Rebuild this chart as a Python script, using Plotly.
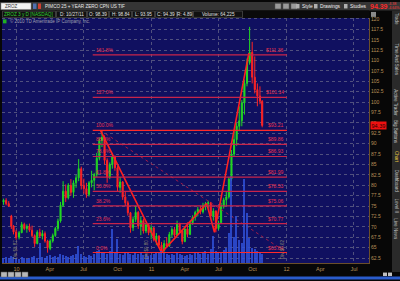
import plotly.graph_objects as go
import pandas as pd

# ---------------- data ----------------
week_dates = [
    "2009-11-27", "2009-12-04", "2009-12-11", "2009-12-18", "2009-12-24",
    "2009-12-31", "2010-01-08", "2010-01-15", "2010-01-22", "2010-01-29",
    "2010-02-05", "2010-02-12", "2010-02-19", "2010-02-26", "2010-03-05",
    "2010-03-12", "2010-03-19", "2010-03-26", "2010-04-02", "2010-04-09",
    "2010-04-16", "2010-04-23", "2010-04-30", "2010-05-07", "2010-05-14",
    "2010-05-21", "2010-05-28", "2010-06-04", "2010-06-11", "2010-06-18",
    "2010-06-25", "2010-07-02", "2010-07-09", "2010-07-16", "2010-07-23",
    "2010-07-30", "2010-08-06", "2010-08-13", "2010-08-20", "2010-08-27",
    "2010-09-03", "2010-09-10", "2010-09-17", "2010-09-24", "2010-10-01",
    "2010-10-08", "2010-10-15", "2010-10-22", "2010-10-29", "2010-11-05",
    "2010-11-12", "2010-11-19", "2010-11-26", "2010-12-03", "2010-12-10",
    "2010-12-17", "2010-12-24", "2010-12-31", "2011-01-07", "2011-01-14",
    "2011-01-21", "2011-01-28", "2011-02-04", "2011-02-11", "2011-02-18",
    "2011-02-25", "2011-03-04", "2011-03-11", "2011-03-18", "2011-03-25",
    "2011-04-01", "2011-04-08", "2011-04-15", "2011-04-22", "2011-04-29",
    "2011-05-06", "2011-05-13", "2011-05-20", "2011-05-27", "2011-06-03",
    "2011-06-10", "2011-06-17", "2011-06-24", "2011-07-01", "2011-07-08",
    "2011-07-15", "2011-07-22", "2011-07-29", "2011-08-05", "2011-08-12",
    "2011-08-19", "2011-08-26", "2011-09-02", "2011-09-09", "2011-09-16",
    "2011-09-23", "2011-09-30", "2011-10-07", "2011-10-14", "2011-10-21",
    "2011-10-27",
]
open_px = [
    76.0, 76.4, 75.6, 72.6, 70.2, 68.8, 67.5, 68.6, 70.6, 69.6,
    70.1, 69.2, 67.9, 66.0, 68.7, 67.8, 68.4, 66.6, 64.8, 66.6,
    67.9, 69.6, 71.4, 75.2, 78.6, 77.0, 80.0, 78.3, 80.6, 81.8,
    84.0, 80.0, 79.2, 77.8, 80.6, 81.2, 82.6, 86.5, 90.8, 91.5,
    86.0, 82.0, 85.0, 86.8, 84.2, 79.5, 80.8, 77.2, 75.8, 73.4,
    69.8, 71.8, 73.5, 70.2, 71.5, 69.0, 70.5, 68.6, 69.8, 67.0,
    67.8, 65.6, 64.3, 66.0, 65.4, 68.2, 69.4, 68.0, 70.8, 69.0,
    66.5, 69.5, 68.2, 71.0, 72.3, 73.5, 74.2, 73.6, 75.2, 75.6,
    75.8, 72.6, 73.8, 69.6, 71.0, 75.0, 76.5, 77.2, 81.5, 87.5,
    91.0, 94.2, 95.5, 99.8, 104.5, 109.5, 112.0, 106.0, 103.0, 101.5,
    100.2,
]
high_px = [
    76.8, 76.9, 76.2, 72.9, 70.4, 69.3, 69.0, 71.2, 71.0, 70.6,
    70.8, 70.3, 68.2, 69.2, 69.6, 69.2, 68.9, 66.9, 67.0, 68.4,
    70.0, 72.0, 76.0, 81.0, 80.2, 80.5, 81.5, 81.2, 82.5, 86.3,
    84.5, 81.6, 80.6, 81.0, 83.5, 83.0, 87.8, 91.5, 93.2, 92.0,
    86.5, 85.5, 87.5, 87.2, 84.6, 82.0, 81.0, 78.5, 76.3, 73.6,
    72.5, 75.1, 73.8, 72.4, 72.0, 71.0, 70.8, 70.4, 69.9, 68.5,
    68.0, 66.4, 66.8, 67.5, 68.8, 69.9, 70.0, 71.5, 71.0, 69.3,
    70.0, 71.1, 71.5, 72.8, 73.9, 74.8, 75.1, 75.8, 76.0, 76.3,
    76.0, 74.5, 74.0, 71.5, 75.8, 77.0, 78.5, 82.0, 88.5, 93.0,
    95.0, 99.0, 100.5, 105.4, 110.5, 118.1, 114.5, 111.0, 104.5, 103.8,
    100.5,
]
low_px = [
    75.3, 75.2, 74.8, 69.5, 68.2, 66.9, 67.0, 68.5, 69.2, 68.6,
    68.8, 67.5, 65.2, 65.8, 67.4, 67.0, 66.2, 63.8, 64.4, 66.2,
    67.6, 69.0, 71.0, 74.8, 76.0, 76.6, 77.5, 77.0, 79.4, 81.0,
    79.0, 78.0, 77.0, 77.3, 79.5, 78.8, 82.0, 86.0, 89.2, 85.0,
    80.6, 81.5, 84.0, 83.5, 78.5, 78.2, 76.5, 75.0, 72.7, 68.6,
    69.0, 71.2, 69.5, 68.0, 68.4, 68.5, 68.0, 67.0, 66.5, 65.6,
    65.0, 63.84, 64.0, 64.9, 65.2, 67.5, 67.5, 67.8, 68.5, 65.8,
    66.3, 67.5, 68.0, 70.5, 71.5, 72.5, 73.0, 73.2, 74.0, 74.5,
    72.0, 71.5, 68.7, 69.2, 70.8, 74.4, 75.0, 76.8, 81.0, 86.8,
    89.5, 93.0, 94.2, 97.0, 103.8, 109.0, 104.5, 102.1, 99.0, 99.5,
    93.95,
]
close_px = [
    76.4, 75.6, 75.0, 70.2, 68.8, 67.5, 68.6, 70.6, 69.6, 70.1,
    69.2, 67.9, 66.0, 68.7, 67.8, 68.4, 66.6, 65.0, 66.6, 67.9,
    69.6, 71.4, 75.2, 78.6, 77.0, 80.0, 78.3, 80.6, 81.8, 84.0,
    80.0, 79.2, 77.8, 80.6, 81.2, 82.6, 86.5, 90.8, 91.5, 86.0,
    82.0, 85.0, 86.8, 84.2, 79.5, 80.8, 77.2, 75.8, 73.4, 69.8,
    71.8, 73.5, 70.2, 71.5, 69.0, 70.5, 68.6, 69.8, 67.0, 67.8,
    65.6, 64.3, 66.0, 65.4, 68.2, 69.4, 68.0, 70.8, 69.0, 66.5,
    69.5, 68.2, 71.0, 72.3, 73.5, 74.2, 73.6, 75.2, 75.6, 75.8,
    72.6, 73.8, 69.6, 71.0, 75.0, 76.5, 77.2, 81.5, 87.5, 91.0,
    94.2, 95.5, 99.8, 104.5, 109.5, 112.0, 106.0, 103.0, 101.5, 100.2,
    94.39,
]
volume_k = [
    50, 60, 50, 70, 60, 50, 40, 60, 50, 40,
    50, 60, 70, 50, 200, 60, 50, 70, 80, 60,
    70, 60, 90, 80, 70, 60, 70, 80, 90, 170,
    90, 70, 60, 80, 70, 90, 120, 130, 110, 100,
    90, 120, 340, 100, 240, 90, 80, 100, 110, 90,
    80, 100, 90, 110, 80, 90, 70, 80, 90, 100,
    110, 120, 100, 90, 80, 90, 80, 100, 90, 80,
    70, 80, 90, 80, 100, 110, 90, 100, 120, 90,
    140, 270, 120, 100, 110, 130, 150, 300, 880, 260,
    480, 230, 200, 850, 510, 250, 150, 140, 120, 100,
    90,
]

fib_pct_labels = ["0.0%", "23.6%", "38.2%", "50.0%", "61.8%",
                  "78.6%", "88.6%", "100.0%", "127.0%", "161.8%"]
fib_prices = [63.84, 70.77, 75.06, 78.53, 81.99, 86.93, 89.86, 93.21, 101.14, 111.36]
fib_price_labels = ["$63.84", "$70.77", "$75.06", "$78.53", "$81.99",
                    "$86.93", "$89.86", "$93.21", "$101.14", "$111.36"]
fib_start, fib_end = "2010-07-26", "2012-01-02"

zigzag_dates = ["2010-08-16", "2011-01-28", "2011-05-30", "2011-06-20", "2011-09-21"]
zigzag_prices = [93.21, 63.84, 75.6, 68.7, 111.8]

trend_dates = ["2010-08-16", "2011-12-31"]
trend_prices = [93.21, 63.9]

x_tick_dates = ["2010-01-01", "2010-04-01", "2010-07-01", "2010-10-01",
                "2011-01-01", "2011-04-01", "2011-07-01", "2011-10-01",
                "2012-01-01", "2012-04-01", "2012-07-01"]
x_tick_text = ["10", "Apr", "Jul", "Oct", "11", "Apr", "Jul", "Oct", "12", "Apr", "Jul"]
x_grid_dates = ["2010-01-01", "2010-07-01", "2011-01-01", "2011-07-01",
                "2012-01-01", "2012-07-01"]
y_ticks = [62.5, 65, 67.5, 70, 72.5, 75, 77.5, 80, 82.5, 85, 87.5, 90,
           92.5, 95, 97.5, 100, 102.5, 105, 107.5, 110, 112.5, 115, 117.5, 120]
y_tick_text = ["62.5", "65", "67.5", "70", "72.5", "75", "77.5", "80", "82.5", "85",
               "87.5", "90", "92.5", "95", "97.5", "100", "102.5", "105", "107.5",
               "110", "112.5", "115", "117.5", "120"]

div_dates = ["2009-12-28", "2010-12-17", "2011-12-19"]
div_texts = ["Div $0.87", "Div $0.80", "Div $0.62"]

last_price = 94.39
info_cells = ["ZROZ 3 y D [NASDAQ]", "D: 10/27/11", "O: 98.39", "H: 98.84",
              "L: 93.95", "C: 94.39", "R: 4.89", "Volume: 64,225"]
side_tabs = ["Trade", "Time And Sales", "Active Trader", "Big Buttons",
             "Chart", "Dashboard", "Level II", "Live News"]

# ---------------- geometry helpers (pixels -> paper) ----------------
W, H = 400, 281
def px(v): return v / W
def py(v): return 1 - v / H

BASE = pd.Timestamp("2010-01-01")
X_BASE_PX, PX_PER_DAY = 16.5, 0.37
def xdate(xp):
    return (BASE + pd.Timedelta(days=(xp - X_BASE_PX) / PX_PER_DAY)).strftime("%Y-%m-%d %H:%M")

PLOT_L, PLOT_R, PLOT_T, PLOT_B = 2, 369, 16, 263
Y_LO, Y_HI = 61.285, 120.26

FONT = "Liberation Sans"
NAVY = "#101060"
TAN = "#b89058"
GRID = "#50507e"

def note(x, y, text, size, color, xanchor="center", yanchor="middle", **kw):
    d = dict(xref="paper", yref="paper", x=x, y=y, text=text, showarrow=False,
             xanchor=xanchor, yanchor=yanchor,
             font=dict(family=FONT, size=size, color=color))
    d.update(kw)
    return d

def prect(x0, x1, y0, y1, fill, line=None, layer="above"):
    return dict(type="rect", xref="paper", yref="paper", x0=px(x0), x1=px(x1),
                y0=py(y1), y1=py(y0), fillcolor=fill,
                line=line if line else dict(width=0), layer=layer)

fig = go.Figure()

fig.add_trace(go.Bar(
    x=week_dates, y=volume_k, yaxis="y2",
    marker=dict(color="#3050d8", line=dict(width=0)), opacity=0.85,
    width=3.6 * 24 * 3600 * 1000, showlegend=False, hoverinfo="skip"))

fig.add_trace(go.Candlestick(
    x=week_dates, open=open_px, high=high_px, low=low_px, close=close_px,
    increasing=dict(line=dict(color="#22d822", width=1), fillcolor="#22d822"),
    decreasing=dict(line=dict(color="#ff2424", width=1), fillcolor="#ff2424"),
    whiskerwidth=0, showlegend=False))

fig.add_trace(go.Scatter(
    x=trend_dates, y=trend_prices, mode="lines",
    line=dict(color="#a01c48", width=1, dash="dot"), showlegend=False))

fig.add_trace(go.Scatter(
    x=zigzag_dates, y=zigzag_prices, mode="lines",
    line=dict(color="#ff2020", width=1.6), showlegend=False))

shapes = []
annotations = []

# Fibonacci lines and labels
for p, lab, plab in zip(fib_prices, fib_pct_labels, fib_price_labels):
    bright = lab in ("0.0%", "100.0%")
    shapes.append(dict(type="line", xref="x", yref="y", x0=fib_start, x1=fib_end,
                       y0=p, y1=p, layer="above",
                       line=dict(color="#ff2a2a" if bright else "#c8244a", width=1.2)))
    annotations.append(dict(xref="paper", yref="y", x=px(93.5), y=p, text=lab,
                            showarrow=False, xanchor="left", yanchor="bottom",
                            font=dict(family=FONT, size=5, color="#e8304e")))
    annotations.append(dict(xref="paper", yref="y", x=px(286), y=p, text=plab,
                            showarrow=False, xanchor="right", yanchor="bottom",
                            font=dict(family=FONT, size=5, color="#e8304e")))

# rotated dividend markers
for d, t in zip(div_dates, div_texts):
    annotations.append(dict(xref="x", yref="paper", x=d, y=py(249), text=t,
                            showarrow=False, textangle=-90, xanchor="center",
                            yanchor="middle",
                            font=dict(family=FONT, size=4.5, color="#8c8470")))

# current price marker
annotations.append(dict(xref="paper", yref="y", x=px(369.5), y=last_price,
                        text=f"{last_price:.2f}", showarrow=False, xanchor="left",
                        yanchor="middle", bgcolor="#ee1010", borderpad=0.5,
                        font=dict(family=FONT, size=5.5, color="#2a0000")))

# copyright line
annotations.append(note(px(8), py(19.5), "© 2010 TD Ameritrade IP Company, Inc.",
                        4.5, "#a0a0b0", xanchor="left"))
shapes.append(prect(3, 6.5, 17.5, 21.5, "#20b020", layer="below"))

# top toolbar
shapes.append(prect(0, 400, 0, 8.5, "#353535"))
shapes.append(prect(1, 31, 1, 7.5, "#f4f4f4", dict(color="#888", width=0.5)))
annotations.append(note(px(3), py(4.3), "ZROZ", 4.5, "#333", xanchor="left"))
shapes.append(prect(33, 36.5, 1.5, 7, "#5070b0"))
shapes.append(prect(38, 41, 1.5, 7, "#d04030"))
annotations.append(note(px(42.5), py(4.3), "PIMCO 25 + YEAR ZERO CPN US TIF", 4.6,
                        "#e8e8e8", xanchor="left"))
for x0 in (275, 283, 291):
    shapes.append(prect(x0, x0 + 6, 1.5, 7, "#9a9a9a", dict(color="#555", width=0.5)))
for xl, t in ((300, "Style"), (318, "Drawings"), (348, "Studies")):
    shapes.append(prect(xl - 4, xl - 0.5, 2, 6.5, "#b0b0b0"))
    annotations.append(note(px(xl), py(4.3), t, 4.8, "#f0f0f0", xanchor="left"))
annotations.append(note(px(368), py(4.4), "<b>94.39</b>", 7, "#ff2a2a", xanchor="left"))
annotations.append(note(px(386), py(2.4), "-4.38", 3.6, "#ff3a3a", xanchor="left"))
annotations.append(note(px(386), py(6.2), "-4.64%", 3.6, "#ff3a3a", xanchor="left"))

# info bar
shapes.append(prect(0, 369, 8.5, 16, "#0a0a0a"))
cell_edges = [2, 56, 87, 109, 132, 155, 177, 193, 243]
for i, t in enumerate(info_cells):
    a, b = cell_edges[i], cell_edges[i + 1]
    shapes.append(prect(a + 0.5, b - 0.5, 9.2, 15.5, "#101010",
                        dict(color="#5a5a5a", width=0.6)))
    annotations.append(note(px((a + b) / 2), py(12.4), t, 4.7,
                            "#30d030" if i == 0 else "#e0e0e0"))

# right side tab bar
shapes.append(prect(392, 400, 8.5, 272, "#2a2a2a"))
tab_centers = [17, 58, 101, 131, 156, 180, 205, 229]
for t, yc in zip(side_tabs, tab_centers):
    annotations.append(note(px(396), py(yc), t, 4.5,
                            "#e0c040" if t == "Chart" else "#c8c8c8", textangle=90))
shapes.append(prect(371, 376, 10, 15, "#8a8a8a"))

# bottom strip
shapes.append(prect(0, 400, 276.5, 279.5, "#2a5ccc"))
for x0 in (1, 8, 15, 22):
    shapes.append(prect(x0, x0 + 6, 272, 277, "#b8b8b8", dict(color="#666", width=0.5)))
for x0 in (383, 388):
    shapes.append(prect(x0, x0 + 4, 272.5, 276, "#c0c0c0"))

fig.update_layout(
    width=W, height=H, autosize=False,
    margin=dict(l=0, r=0, t=0, b=0, pad=0),
    paper_bgcolor="#070707", plot_bgcolor=NAVY,
    showlegend=False, bargap=0,
    font=dict(family=FONT, size=5.5, color=TAN),
    xaxis=dict(
        type="date", domain=[px(PLOT_L), px(PLOT_R)],
        range=[xdate(PLOT_L), xdate(PLOT_R)],
        tickmode="array", tickvals=x_tick_dates, ticktext=x_tick_text,
        tickfont=dict(family=FONT, size=5.5, color=TAN),
        showgrid=False, zeroline=False, ticks="", ticklen=0,
        showline=True, linecolor="#6a4e2a", linewidth=1,
        rangeslider=dict(visible=False), fixedrange=True,
        minor=dict(tickmode="array", tickvals=x_grid_dates, showgrid=True,
                   gridcolor=GRID, griddash="dot", gridwidth=1, ticks=""),
    ),
    yaxis=dict(
        domain=[py(PLOT_B), py(PLOT_T)], range=[Y_LO, Y_HI], side="right",
        tickmode="array", tickvals=y_ticks, ticktext=y_tick_text,
        tickfont=dict(family=FONT, size=5, color=TAN),
        showgrid=True, gridcolor=GRID, griddash="dot", gridwidth=1,
        zeroline=False, ticks="", ticklen=0,
        showline=True, linecolor="#6a4e2a", linewidth=1, fixedrange=True,
    ),
    yaxis2=dict(overlaying="y", range=[0, 2470], visible=False, fixedrange=True),
    shapes=shapes, annotations=annotations,
)

fig.write_html("out.html")
